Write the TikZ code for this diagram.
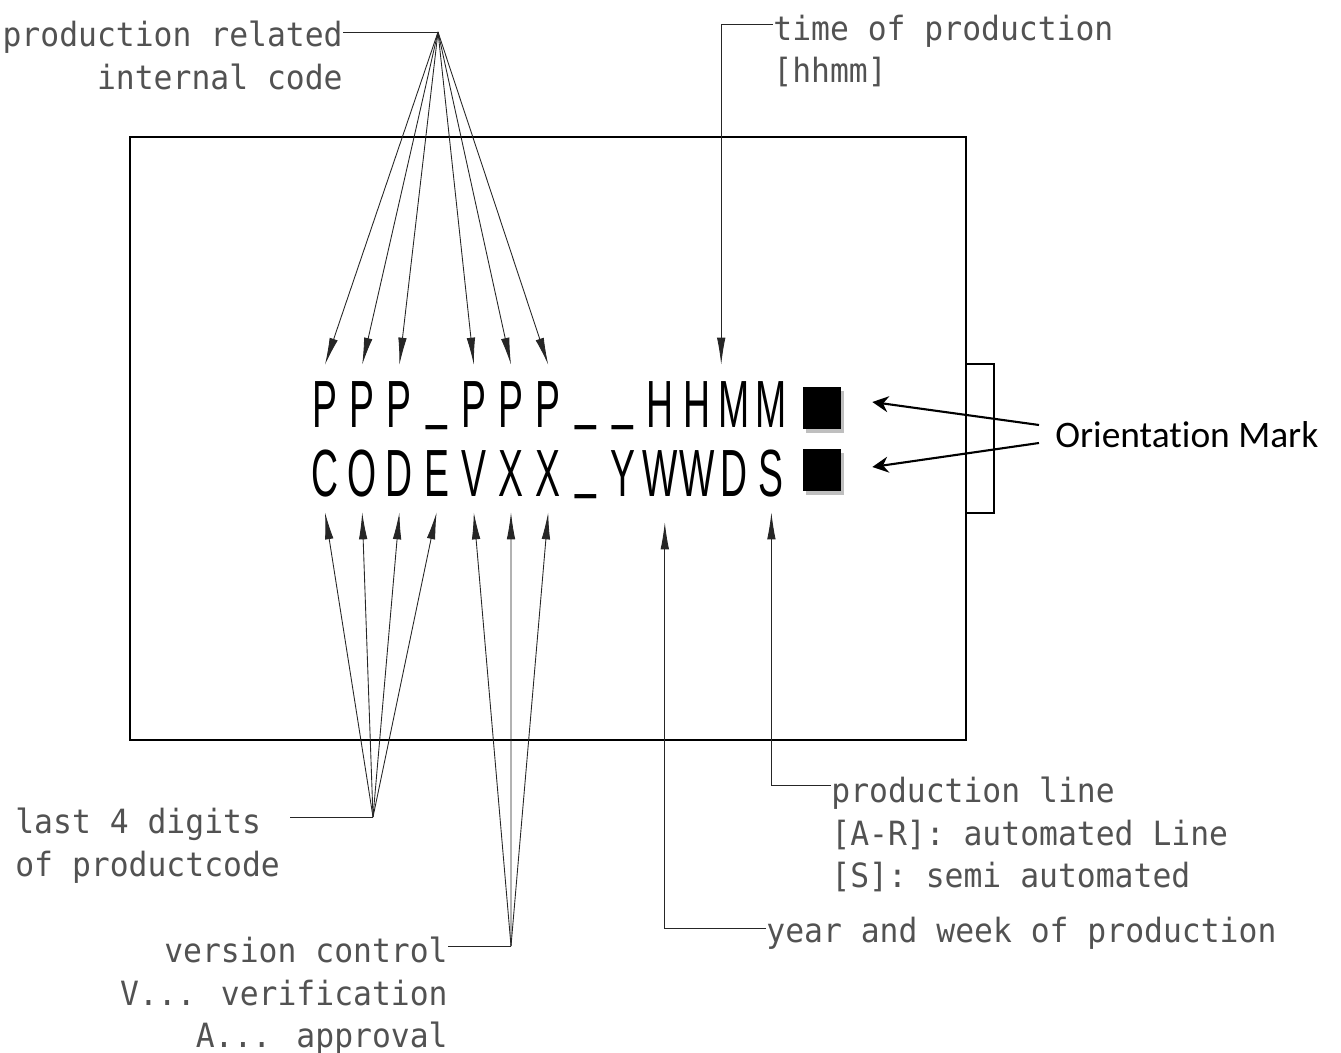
\documentclass[tikz,border=0pt]{standalone}
\usepackage{fontspec}
\usetikzlibrary{arrows.meta,calc,shadows}
\newfontfamily\codefont[FakeStretch=0.56]{Liberation Sans}
\newfontfamily\cadfont[FakeStretch=0.94]{DejaVu Sans Mono}
\newfontfamily\labelfont[Ligatures=NoCommon]{Carlito}
\newcommand\codebar{\raisebox{0.17em}{\_}}

\begin{document}
\begin{tikzpicture}[x=0.02cm, y=-0.02cm,
    codechar/.style={font=\codefont\fontsize{38}{40}\selectfont, inner sep=0pt, inner ysep=0.3cm, text height=0.96cm, text depth=0pt, anchor=base},
    cadtext/.style={font=\cadfont\fontsize{19}{24}\selectfont, text=black!68, inner sep=0pt},
    leader/.style={draw=black!85, line width=0.5pt},
    cadarrow/.style={leader, -{Latex[length=0.54cm, width=0.17cm]}},
    orimark/.style={fill=black, inner sep=0pt, minimum width=0.76cm, minimum height=0.84cm,
      drop shadow={shadow xshift=0.06cm, shadow yshift=-0.08cm, fill=black!25, opacity=1}},
    omarrow/.style={-{Stealth[length=0.32cm, width=0.32cm]}, line width=1.2pt}]
  \useasboundingbox (0,0) rectangle (1341,1053);

  % housing and side tab
  \draw[line width=1.3pt] (130,137) rectangle (966,740);
  \draw[line width=1pt] (966,364) rectangle (994,513);

  % marking, two rows
  \foreach \ch [count=\i from 0] in {P,P,P,\codebar,P,P,P,\codebar,\codebar,H,H,M,M}
    \node[codechar] (t\i) at (325+37.2*\i, 428) {\ch};
  \foreach \ch [count=\i from 0] in {C,O,D,E,V,X,X,\codebar,Y,W,W,D,S}
    \node[codechar] (b\i) at (325+37.2*\i, 497) {\ch};

  \node[orimark] (m1) at (822,408) {};
  \node[orimark] (m2) at (822,470) {};

  % labels
  \node[cadtext, align=right, anchor=north east] (prc) at (343,21) {production related\\internal code};
  \node[cadtext, align=left, anchor=north west] (tp) at (773,15) {time of production\\{}[hhmm]};
  \node[cadtext, align=left, anchor=north west] (l4d) at (15,808) {last 4 digits\\of productcode};
  \node[cadtext, align=right, anchor=north east] (vc) at (448,937) {version control\\V... verification\\A... approval};
  \node[cadtext, align=left, anchor=north west] (pl) at (831,777) {production line\\{}[A-R]: automated Line\\{}[S]: semi automated};
  \node[cadtext, anchor=north west] (yw) at (766,917) {year and week of production};
  \node[font=\labelfont\fontsize{21.3}{24}\selectfont, inner sep=0pt, anchor=west] (om) at (1055,435) {Orientation Mark};

  \coordinate (hubP) at (438,32);
  \coordinate (hubC) at (373,817);
  \coordinate (hubV) at (511,946);

  % leaders
  \draw[leader] (prc.north east |- hubP) -- (hubP);
  \draw[leader] ($(hubC -| l4d.east)+(10,0)$) -- (hubC);
  \draw[leader] (vc.north east |- hubV) -- (hubV);

  \foreach \i in {0,1,2,4,5,6}
    \draw[cadarrow] (hubP) -- (t\i.north);
  \foreach \i in {0,...,3}
    \draw[cadarrow] (hubC) -- (b\i.south);
  \foreach \i in {4,5,6}
    \draw[cadarrow] (hubV) -- (b\i.south);

  \draw[cadarrow] ([yshift=-0.18cm]tp.north west) -| ([xshift=-0.26cm]t11.north);
  \draw[cadarrow] ([yshift=-0.16cm]pl.north west) -| (b12.south);
  \draw[cadarrow, shorten >=0.2cm] ([yshift=-0.22cm]yw.north west) -| ([xshift=0.1cm]b9.south);

  % orientation mark
  \draw[omarrow] ([xshift=-0.32cm,yshift=0.2cm]om.west) -- ([xshift=0.62cm,yshift=0.12cm]m1.east);
  \draw[omarrow] ([xshift=-0.32cm,yshift=-0.16cm]om.west) -- ([xshift=0.62cm,yshift=0.06cm]m2.east);
\end{tikzpicture}
\end{document}
